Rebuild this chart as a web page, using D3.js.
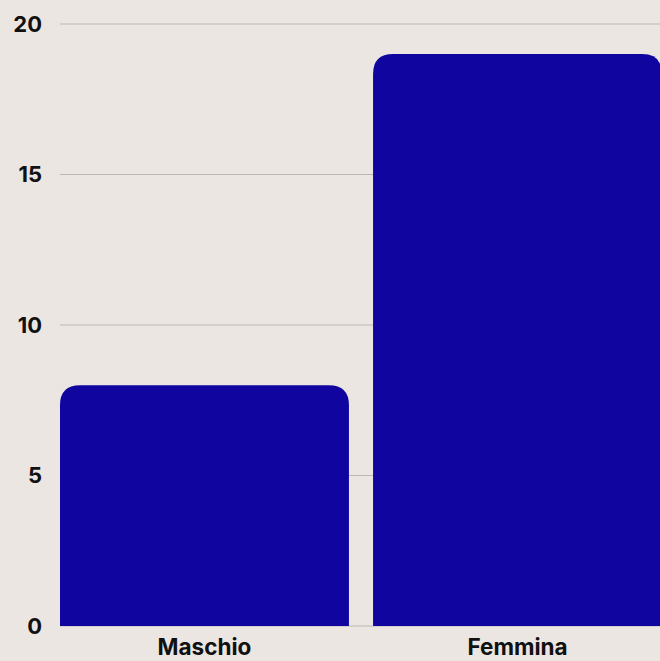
<!DOCTYPE html>
<html>
<head>
<meta charset="utf-8">
<script src="https://cdn.jsdelivr.net/npm/d3@7"></script>
<style>
  html, body { margin: 0; padding: 0; background: #ebe6e2; }
  svg { display: block; }
  text { font-family: Inter, "Noto Sans", sans-serif; font-weight: 700; fill: #111; }
</style>
</head>
<body>
<svg id="chart" width="660" height="661"></svg>
<script>
const categories = ["Maschio", "Femmina"];
const values = [8, 19];
const yTicks = [0, 5, 10, 15, 20];

const width = 660, height = 661;
const margin = { top: 24, right: -2, bottom: 35, left: 60 };

const svg = d3.select("#chart");

const x = d3.scaleBand()
  .domain(categories)
  .range([margin.left, width - margin.right])
  .paddingInner(0.077)
  .paddingOuter(0);

const y = d3.scaleLinear()
  .domain([0, 20])
  .range([height - margin.bottom, margin.top]);

// horizontal gridlines
svg.append("g")
  .selectAll("line")
  .data(yTicks)
  .join("line")
  .attr("x1", margin.left)
  .attr("x2", width)
  .attr("y1", d => y(d))
  .attr("y2", d => y(d))
  .attr("stroke", "#bdb8b3")
  .attr("stroke-width", 1);

// y tick labels
svg.append("g")
  .selectAll("text")
  .data(yTicks)
  .join("text")
  .attr("x", 42)
  .attr("y", d => y(d))
  .attr("dy", "0.36em")
  .attr("text-anchor", "end")
  .attr("font-size", 22)
  .text(d => d);

// bars with rounded top corners
const r = 20;
function barPath(d, i) {
  const x0 = x(categories[i]);
  const w = x.bandwidth();
  const y0 = y(d);
  const yb = y(0);
  return `M${x0},${yb}L${x0},${y0 + r}Q${x0},${y0} ${x0 + r},${y0}` +
         `L${x0 + w - r},${y0}Q${x0 + w},${y0} ${x0 + w},${y0 + r}L${x0 + w},${yb}Z`;
}
svg.append("g")
  .selectAll("path")
  .data(values)
  .join("path")
  .attr("d", barPath)
  .attr("fill", "#10069f");

// category labels
svg.append("g")
  .selectAll("text")
  .data(categories)
  .join("text")
  .attr("x", d => x(d) + x.bandwidth() / 2)
  .attr("y", 655)
  .attr("text-anchor", "middle")
  .attr("font-size", 22.5)
  .text(d => d);
</script>
</body>
</html>
